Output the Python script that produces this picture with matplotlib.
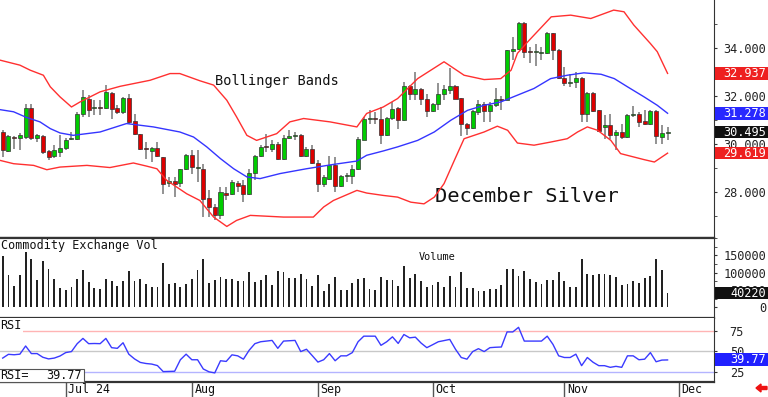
import matplotlib
matplotlib.use('Agg')
import matplotlib.pyplot as plt
import numpy as np
import matplotlib.transforms as mtrans
from matplotlib.patches import Rectangle, FancyArrow

# ---------------- data ----------------
opens = [30.50, 29.70, 30.28, 30.27, 30.29, 31.51, 30.27, 30.32, 29.70, 29.49,
         29.67, 29.83, 30.22, 30.22, 31.24, 31.89, 31.50, 31.53, 31.51, 32.13,
         31.50, 31.33, 31.92, 30.95, 30.40, 29.80, 29.71, 29.83, 29.46, 28.36,
         28.45, 28.39, 28.94, 29.56, 29.00, 28.97, 27.75, 27.38, 27.03, 27.98,
         27.93, 28.39, 28.28, 27.93, 28.80, 29.49, 29.89, 29.81, 30.01, 29.36,
         30.26, 30.33, 30.39, 29.50, 29.81, 29.21, 28.35, 28.56, 29.11, 28.24,
         28.65, 28.65, 28.97, 30.18, 31.05, 31.08, 31.02, 30.36, 31.09, 31.51,
         30.99, 32.40, 32.07, 32.28, 31.89, 31.38, 31.65, 32.06, 32.24, 32.43,
         31.90, 30.82, 30.68, 31.33, 31.68, 31.36, 31.64, 31.86, 31.85, 33.88,
         33.97, 35.04, 33.85, 33.83, 33.78, 33.79, 34.60, 33.90, 32.76, 32.55,
         32.56, 32.76, 31.26, 32.13, 31.40, 30.72, 30.78, 30.39, 30.50, 30.29,
         31.20, 31.26, 30.95, 30.82, 31.38, 30.29, 30.47]
highs = [30.57, 30.36, 30.32, 30.46, 31.68, 31.68, 30.43, 30.36, 29.74, 29.95,
         30.36, 30.25, 30.50, 31.33, 32.24, 32.03, 31.85, 31.85, 32.45, 32.17,
         31.61, 31.96, 32.10, 31.26, 30.43, 30.08, 29.88, 30.08, 29.46, 28.62,
         28.62, 28.97, 29.60, 29.74, 29.74, 29.18, 28.07, 27.51, 28.21, 28.21,
         28.49, 28.45, 28.49, 28.97, 29.53, 29.95, 30.43, 30.15, 30.08, 30.36,
         30.60, 30.50, 30.43, 29.88, 29.95, 29.32, 28.70, 29.49, 29.46, 28.70,
         28.80, 29.11, 30.29, 31.13, 31.43, 31.33, 31.54, 31.13, 31.75, 31.54,
         32.58, 32.45, 33.00, 32.31, 32.10, 31.71, 32.52, 32.45, 33.18, 32.45,
         31.93, 30.88, 31.40, 31.85, 31.75, 31.75, 32.35, 31.99, 33.93, 34.46,
         35.08, 35.08, 34.04, 34.15, 34.04, 34.67, 34.63, 33.97, 33.21, 32.93,
         33.00, 32.79, 32.17, 32.17, 31.43, 31.20, 31.24, 30.57, 30.85, 31.26,
         31.58, 31.33, 31.40, 31.43, 31.40, 30.78, 30.71]
lows = [29.46, 29.67, 29.81, 29.74, 30.22, 30.18, 30.08, 29.60, 29.32, 29.43,
        29.46, 29.77, 30.15, 30.15, 31.13, 31.13, 31.20, 31.20, 31.47, 31.06,
        31.26, 31.26, 30.85, 30.36, 29.74, 29.39, 29.25, 29.46, 27.93, 28.20,
        27.79, 28.21, 28.90, 28.76, 28.42, 26.96, 26.96, 26.82, 26.89, 27.65,
        27.86, 28.00, 27.58, 27.86, 28.49, 29.46, 29.67, 29.67, 29.32, 29.32,
        30.22, 30.15, 29.46, 29.46, 29.18, 28.00, 28.21, 28.51, 28.00, 28.21,
        28.40, 28.35, 28.90, 30.15, 30.85, 30.85, 30.00, 30.32, 31.00, 30.64,
        30.96, 31.82, 31.85, 31.61, 31.13, 31.33, 31.40, 31.82, 32.07, 31.86,
        30.32, 30.36, 30.64, 31.19, 30.92, 30.92, 31.54, 31.43, 31.82, 33.49,
        33.93, 33.56, 33.38, 33.24, 33.49, 33.76, 33.49, 32.72, 32.40, 32.38,
        32.31, 30.92, 30.92, 31.33, 30.50, 30.22, 30.22, 29.74, 30.22, 30.26,
        31.13, 30.71, 30.78, 30.78, 30.01, 30.01, 30.15]
closes = [29.74, 30.32, 30.25, 30.36, 31.51, 30.27, 30.36, 29.67, 29.46, 29.74,
          29.83, 30.18, 30.25, 31.24, 31.96, 31.40, 31.53, 31.50, 32.17, 31.47,
          31.33, 31.93, 30.92, 30.43, 29.81, 29.78, 29.83, 29.49, 28.35, 28.45,
          28.35, 28.94, 29.53, 29.04, 29.03, 27.72, 27.38, 27.03, 28.00, 27.89,
          28.42, 28.25, 27.93, 28.80, 29.49, 29.88, 29.86, 30.01, 29.39, 30.26,
          30.32, 30.39, 29.50, 29.81, 29.22, 28.35, 28.63, 29.11, 28.24, 28.65,
          28.72, 28.97, 30.22, 31.06, 31.08, 31.04, 30.36, 31.08, 31.44, 30.99,
          32.40, 32.10, 32.28, 31.89, 31.38, 31.68, 32.07, 32.28, 32.40, 31.89,
          30.85, 30.68, 31.36, 31.68, 31.36, 31.64, 31.86, 31.84, 33.90, 33.97,
          35.04, 33.83, 33.83, 33.85, 33.81, 34.60, 33.93, 32.76, 32.54, 32.57,
          32.75, 31.26, 32.13, 31.38, 30.54, 30.81, 30.36, 30.50, 30.29, 31.22,
          31.26, 30.92, 30.85, 31.38, 30.32, 30.46, 30.495]
volumes = [147000, 93000, 61000, 93000, 160000, 139000, 78000, 134000, 111000, 81000,
           56000, 49000, 59000, 81000, 108000, 73000, 57000, 54000, 83000, 75000,
           62000, 75000, 105000, 75000, 83000, 66000, 58000, 58000, 127000, 66000,
           69000, 59000, 67000, 83000, 108000, 140000, 69000, 80000, 88000, 81000,
           81000, 75000, 75000, 101000, 72000, 78000, 93000, 64000, 105000, 103000,
           85000, 85000, 97000, 81000, 62000, 93000, 46000, 66000, 88000, 49000,
           49000, 71000, 83000, 85000, 52000, 49000, 88000, 78000, 78000, 62000,
           118000, 86000, 95000, 75000, 59000, 64000, 72000, 59000, 89000, 58000,
           103000, 56000, 57000, 46000, 46000, 53000, 52000, 64000, 110000, 110000,
           91000, 106000, 83000, 72000, 67000, 80000, 80000, 101000, 76000, 59000,
           59000, 139000, 97000, 93000, 95000, 95000, 93000, 88000, 64000, 67000,
           75000, 71000, 86000, 90000, 139000, 109000, 40220]

rsi_idx = list(range(117))
rsi_vals = [42.0, 46.5, 46.0, 46.7, 56.5, 47.4, 47.4, 43.0, 41.0, 42.0,
            44.5, 48.6, 49.8, 59.3, 65.6, 59.3, 59.5, 59.3, 65.6, 54.5,
            53.7, 60.4, 46.7, 41.0, 36.8, 35.5, 34.8, 33.0, 25.8, 26.0,
            26.2, 40.0, 46.7, 40.0, 40.0, 28.9, 25.5, 24.2, 38.8, 38.0,
            45.9, 44.7, 40.7, 51.4, 59.3, 61.6, 62.4, 63.2, 53.7, 62.4,
            62.8, 63.2, 49.8, 52.6, 45.0, 37.2, 40.0, 47.4, 38.8, 44.7,
            44.7, 48.6, 61.6, 68.3, 68.3, 68.3, 57.3, 61.6, 67.5, 59.6,
            70.3, 66.3, 67.1, 60.0, 54.5, 58.0, 61.6, 63.0, 64.4, 52.6,
            42.7, 40.7, 49.8, 53.3, 49.8, 54.5, 55.0, 55.3, 73.4, 73.4,
            78.9, 62.4, 62.4, 62.4, 62.4, 68.3, 58.5, 44.7, 42.7, 42.7,
            46.7, 32.9, 42.7, 37.0, 32.9, 32.9, 30.9, 32.1, 30.9, 44.7,
            44.7, 40.0, 40.7, 48.6, 37.6, 39.6, 39.77]

upper_idx = [-0.5, 3, 4.8, 7.1, 8.3, 10, 12, 13.5, 17, 20.5, 25.7, 29.2, 30.9, 34.4,
             36.8, 39.1, 40.8, 42.6, 44.3, 47.8, 50.1, 52.5, 57.1, 61.8, 63.5, 66.4,
             68.9, 72.4, 77, 80.5, 84, 86.9, 88.7, 89.8, 91.6, 95.7, 99.1, 102.6,
             106.6, 108.4, 110.1, 113, 114.2, 116]
upper_vals = [33.49, 33.28, 33.07, 32.86, 32.38, 31.96, 31.54, 31.75, 32.17, 32.40,
              32.65, 32.93, 32.93, 32.63, 32.45, 31.82, 31.13, 30.36, 30.15, 30.43,
              30.92, 31.06, 30.92, 30.71, 31.27, 31.54, 31.89, 32.72, 33.42, 32.86,
              32.68, 32.72, 33.07, 33.77, 34.25, 35.29, 35.36, 35.22, 35.57, 35.50,
              34.95, 34.18, 33.84, 32.937]
mid_idx = [-0.5, 1.9, 4.2, 6.5, 8.3, 10, 12.3, 17, 21.6, 26.3, 30.9, 33.3, 35.6, 38,
           40.3, 42.6, 44.9, 48.4, 53, 57.7, 61.8, 63.5, 66.4, 68.9, 72.4, 75.3, 78.2,
           81.1, 84, 86.9, 89.8, 92.7, 95.6, 98.5, 101.4, 104.4, 106.7, 109, 111.9,
           114.2, 116]
mid_vals = [31.43, 31.34, 31.10, 30.92, 30.64, 30.46, 30.36, 30.50, 30.85, 30.71,
            30.50, 30.29, 29.88, 29.39, 28.97, 28.63, 28.56, 28.77, 28.97, 29.15,
            29.29, 29.53, 29.71, 29.88, 30.15, 30.50, 30.99, 31.40, 31.61, 31.75,
            32.03, 32.31, 32.72, 32.86, 32.96, 32.90, 32.72, 32.38, 31.96, 31.61, 31.278]
lower_idx = [-0.5, 1.9, 5.4, 7.7, 10, 14.7, 18.7, 22.8, 25.1, 26.9, 28.6, 32.1, 34.4,
             36.8, 39.1, 40.8, 43.2, 49, 54.2, 56, 57.7, 61.8, 63.5, 66.4, 68.9, 71.2,
             73.5, 75.3, 77, 78.8, 80.5, 84, 86.3, 88.1, 89.8, 92.7, 95.6, 98.5, 100.3,
             102, 103.8, 106.1, 107.8, 109.6, 111.9, 113.7, 116]
lower_vals = [29.32, 29.18, 29.11, 28.93, 29.04, 29.11, 29.02, 29.21, 29.08, 28.97,
              28.49, 27.93, 27.65, 26.96, 26.57, 26.82, 27.03, 26.96, 26.96, 27.38,
              27.65, 28.07, 27.96, 27.86, 27.79, 27.58, 27.51, 27.79, 28.35, 29.32,
              30.22, 30.50, 30.74, 30.57, 30.04, 29.95, 30.08, 30.22, 30.50, 30.71,
              30.57, 30.15, 29.60, 29.49, 29.35, 29.25, 29.619]

month_idx = [11, 33, 55, 75, 98, 118]
month_labels = ['Jul 24', 'Aug', 'Sep', 'Oct', 'Nov', 'Dec']
price_ticks = [28, 30, 32, 34]
vol_ticks = [0, 50000, 100000, 150000]
rsi_ticks = [25, 50, 75]
last_close = 30.495
last_upper = 32.937
last_mid = 31.278
last_lower = 29.619
last_vol = 40220
last_rsi = 39.77

# ---------------- figure ----------------
FONT = 'DejaVu Sans Mono'
plt.rcParams['font.family'] = [FONT, 'DejaVu Sans']
W, H = 768, 397
fig = plt.figure(figsize=(W / 100, H / 100), dpi=100)
fig.patch.set_facecolor('white')


def rect(l, t, r, b):
    return [l / W, 1 - b / H, (r - l) / W, (b - t) / H]


ax1 = fig.add_axes(rect(0, 0, 714, 237.5))
ax2 = fig.add_axes(rect(0, 237.5, 714, 317.5))
ax3 = fig.add_axes(rect(0, 317.5, 714, 382))
XL = (-0.47, 124.1)
AXC = '#333333'
for ax in (ax1, ax2, ax3):
    ax.set_xlim(*XL)
    ax.set_facecolor('white')
    ax.spines['left'].set_visible(False)
    ax.spines['top'].set_visible(False)
    ax.spines['right'].set_color(AXC)
    ax.spines['bottom'].set_color(AXC)
    ax.spines['bottom'].set_linewidth(1.6)
    ax.yaxis.tick_right()
    ax.tick_params(axis='x', bottom=False, labelbottom=False)
    ax.tick_params(axis='y', which='both', direction='out', length=2.2,
                   color=AXC, labelsize=8.6, labelcolor='#222222')

# ---- price panel ----
x = np.arange(len(closes))
o = np.array(opens); c = np.array(closes); h = np.array(highs); lo = np.array(lows)
up = c >= o
ax1.vlines(x, lo, h, color='#8a8a8a', lw=1.3, zorder=2)
bottoms = np.minimum(o, c)
heights = np.maximum(np.abs(c - o), 0.04)
cols = np.where(up, '#00cc00', '#dd0000')
ax1.bar(x, heights, bottom=bottoms, width=0.7, color=cols, edgecolor='#333333',
        linewidth=0.5, zorder=3)
ax1.plot(upper_idx, upper_vals, color='#ff3030', lw=1.0, zorder=4)
ax1.plot(lower_idx, lower_vals, color='#ff3030', lw=1.0, zorder=4)
ax1.plot(mid_idx, mid_vals, color='#3535ff', lw=1.0, zorder=4)
ax1.set_ylim(26.11, 35.99)
ax1.set_yticks(price_ticks)
ax1.set_yticklabels(['%.3f' % v for v in price_ticks])
ax1.set_yticks(np.arange(27, 36, 1), minor=True)
ax1.tick_params(axis='y', which='major', pad=35.2)
for lb in ax1.get_yticklabels():
    lb.set_ha('right')

ax1.text(215 / 714, 1 - 81 / 237.5, 'Bollinger Bands', transform=ax1.transAxes,
         fontsize=9.8, color='#111111', va='center', ha='left')
ax1.text(435 / 714, 1 - 197 / 237.5, 'December Silver', transform=ax1.transAxes,
         fontsize=14.7, color='#111111', va='center', ha='left')


def value_box(ax, val, hdata, text, fc, right_px=766):
    tr = mtrans.blended_transform_factory(ax.transAxes, ax.transData)
    ax.add_patch(Rectangle((1.0 + 1 / 714, val - hdata / 2), 53 / 714, hdata,
                           transform=tr, clip_on=False, facecolor=fc,
                           edgecolor='none', zorder=6))
    ax.text(1.0 + (right_px - 714) / 714, val, text, transform=tr, ha='right',
            va='center', color='white', fontsize=8.6, zorder=7, clip_on=False)


value_box(ax1, last_upper, 0.52, '%.3f' % last_upper, '#ee2020')
value_box(ax1, last_mid, 0.52, '%.3f' % last_mid, '#2828ff')
value_box(ax1, last_close, 0.52, '%.3f' % last_close, '#111111')
value_box(ax1, last_lower, 0.52, '%.3f' % last_lower, '#ee2020')

# ---- volume panel ----
ax2.spines['top'].set_visible(True)
ax2.spines['top'].set_color(AXC)
ax2.spines['top'].set_linewidth(1.6)
ax2.bar(x, volumes, width=0.32, color='#222222', zorder=3)
ax2.set_ylim(-30000, 202000)
ax2.set_yticks(vol_ticks)
ax2.set_yticklabels([str(v) for v in vol_ticks])
ax2.set_yticks(np.arange(0, 200001, 25000), minor=True)
ax2.tick_params(axis='y', which='major', pad=35.2)
for lb in ax2.get_yticklabels():
    lb.set_ha('right')
ax2.text(1 / 714, 1 - 2 / 80, 'Commodity Exchange Vol', transform=ax2.transAxes,
         fontsize=8.5, color='#111111', va='top', ha='left')
ax2.text(419 / 714, 1 - 19 / 80, 'Volume', transform=ax2.transAxes,
         fontsize=7.4, color='#111111', va='center', ha='left')
value_box(ax2, last_vol, 35000, str(last_vol), '#111111')

# ---- RSI panel ----
ax3.set_ylim(13.3, 90.7)
ax3.axhline(75, color='#ffb4b4', lw=1.0, zorder=1)
ax3.axhline(50, color='#c8c8c8', lw=1.0, zorder=1)
ax3.axhline(25, color='#b4b4ff', lw=1.0, zorder=1)
ax3.plot(rsi_idx, rsi_vals, color='#3a3aff', lw=1.0, zorder=3)
ax3.set_yticks(rsi_ticks)
ax3.set_yticklabels([str(v) for v in rsi_ticks])
ax3.tick_params(axis='y', which='major', pad=19.4)
for lb in ax3.get_yticklabels():
    lb.set_ha('right')
value_box(ax3, last_rsi, 15.7, '%.2f' % last_rsi, '#2020ff')
ax3.text(0.5 / 714, 1 - 8 / 64.5, 'RSI', transform=ax3.transAxes, fontsize=8.5,
         color='#111111', va='center', ha='left', zorder=5,
         bbox=dict(facecolor='white', edgecolor='none', pad=1))
ax3.add_patch(Rectangle((-0.01, 0.0), 84 / 714 + 0.01, 13.5 / 64.5,
                        transform=ax3.transAxes, facecolor='white',
                        edgecolor='#555555', lw=0.8, zorder=5, clip_on=False))
ax3.text(0.5 / 714, 6.5 / 64.5, 'RSI=', transform=ax3.transAxes, fontsize=8.5,
         color='#111111', va='center', ha='left', zorder=6)
ax3.text(82 / 714, 6.5 / 64.5, '%.2f' % last_rsi, transform=ax3.transAxes,
         fontsize=8.5, color='#111111', va='center', ha='right', zorder=6)

# month ticks and labels
ax3.set_xticks(month_idx)
ax3.tick_params(axis='x', bottom=True, direction='out', length=11, width=1.0,
                color='#555555', labelbottom=False)
trm = mtrans.blended_transform_factory(ax3.transData, ax3.transAxes)
trm = mtrans.offset_copy(trm, fig=fig, x=2.5, y=0, units='dots')
for mi, ml in zip(month_idx, month_labels):
    ax3.text(mi, -7.5 / 64.5, ml, transform=trm, fontsize=8.4, color='#111111',
             ha='left', va='center', clip_on=False)

# small red arrow bottom right
fig.add_artist(FancyArrow(767, H - 388, -11, 0, width=3, head_width=8,
                          head_length=5, length_includes_head=True,
                          color='#ee1111', transform=mtrans.IdentityTransform()))

fig.savefig('out.png', dpi=100)
